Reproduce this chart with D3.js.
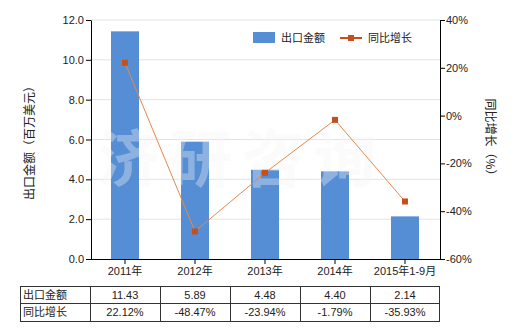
<!DOCTYPE html>
<html><head><meta charset="utf-8">
<script src="https://cdn.jsdelivr.net/npm/d3@7"></script>
<style>
body{margin:0;background:#fff;}
svg text{font-family:"Liberation Sans","Noto Sans CJK SC",sans-serif;font-size:11px;fill:#222;}
</style></head>
<body><svg id="c" width="520" height="330"></svg>
<script>
const categories = ["2011年","2012年","2013年","2014年","2015年1-9月"];
const exportValues = [11.43, 5.89, 4.48, 4.40, 2.14];
const growthRates = [22.12, -48.47, -23.94, -1.79, -35.93];
const exportLabels = ["11.43","5.89","4.48","4.40","2.14"];
const growthLabels = ["22.12%","-48.47%","-23.94%","-1.79%","-35.93%"];
const leftTicks = [0,2,4,6,8,10,12];
const rightTicks = [-60,-40,-20,0,20,40];
const seriesNames = ["出口金额","同比增长"];

const svg = d3.select("#c");
const L = 90, R = 440, T = 20, B = 259;
const xc = d3.scaleBand().domain(categories).range([L, R]);
const yL = d3.scaleLinear().domain([0,12]).range([B, T]);
const yR = d3.scaleLinear().domain([-60,40]).range([B, T]);

// gridlines
svg.append("g").selectAll("line").data(leftTicks.slice(1)).join("line")
  .attr("x1", L).attr("x2", R).attr("y1", d=>yL(d)).attr("y2", d=>yL(d))
  .attr("stroke", "#e3e3e3").attr("stroke-width", 1);

// bars
svg.append("g").selectAll("rect").data(exportValues).join("rect")
  .attr("x", (d,i)=> xc(categories[i]) + xc.bandwidth()/2 - 14)
  .attr("width", 28)
  .attr("y", d=>yL(d)).attr("height", d=>B - yL(d))
  .attr("fill", "#558ed5");

// watermark
svg.append("text").attr("x", 98).attr("y", 182).text("济研咨询")
  .style("font-family", "'Noto Sans CJK SC'").style("font-size", "62px")
  .style("font-weight", "bold").style("letter-spacing", "10px")
  .style("fill", "#f6f6f6").style("opacity", 0.35);

// line
const cx = (i)=> xc(categories[i]) + xc.bandwidth()/2;
const line = d3.line().x((d,i)=>cx(i)).y(d=>yR(d));
svg.append("path").datum(growthRates).attr("d", line)
  .attr("fill","none").attr("stroke","#e8874a").attr("stroke-width",1);
svg.append("g").selectAll("rect").data(growthRates).join("rect")
  .attr("x",(d,i)=>cx(i)-3).attr("y",d=>yR(d)-3).attr("width",6).attr("height",6)
  .attr("fill","#c4501b");

// axes
const axL = svg.append("g").attr("transform",`translate(${L+1},0)`)
  .call(d3.axisLeft(yL).tickValues(leftTicks).tickFormat(d3.format(".1f")).tickSize(5).tickSizeOuter(0));
const axR = svg.append("g").attr("transform",`translate(${R},0)`)
  .call(d3.axisRight(yR).tickValues(rightTicks).tickFormat(d=>d+"%").tickSize(5).tickSizeOuter(0));
const axB = svg.append("g").attr("transform",`translate(0,${B})`)
  .call(d3.axisBottom(xc).tickSize(5).tickSizeOuter(0));
[axL,axR,axB].forEach(a=>{
  a.select(".domain").attr("stroke","#000");
  a.selectAll(".tick line").attr("stroke","#000");
  a.selectAll("text").style("font-size","11px").attr("fill","#222");
});
axL.selectAll("text").attr("x",-7);
axR.selectAll("text").attr("x",6);
axB.selectAll("text").attr("y",8);

// axis titles
svg.append("text").attr("transform","translate(34,140) rotate(-90)").attr("text-anchor","middle")
  .text("出口金额（百万美元）").style("font-family","'Noto Sans CJK SC'").style("font-size","12px");
svg.append("text").attr("transform","translate(486,140) rotate(90)").attr("text-anchor","middle")
  .text("同比增长（%）").style("font-family","'Noto Sans CJK SC'").style("font-size","12px");

// legend
const lg = svg.append("g");
lg.append("rect").attr("x",253).attr("y",32).attr("width",22).attr("height",11).attr("fill","#558ed5");
lg.append("text").attr("x",281).attr("y",42).text(seriesNames[0]).style("font-family","'Noto Sans CJK SC'");
lg.append("line").attr("x1",340).attr("x2",362).attr("y1",38).attr("y2",38).attr("stroke","#c4501b").attr("stroke-width",2);
lg.append("rect").attr("x",348).attr("y",35).attr("width",6).attr("height",6).attr("fill","#c4501b");
lg.append("text").attr("x",368).attr("y",42).text(seriesNames[1]).style("font-family","'Noto Sans CJK SC'");

// table
const tL = 20, rows = [286, 303, 321];
const tb = svg.append("g");
const colX = [tL].concat(categories.map(c=>xc(c))).concat([xc(categories[categories.length-1])+xc.bandwidth()-1]);
rows.forEach(y=> tb.append("line").attr("x1",tL).attr("x2",colX[colX.length-1]).attr("y1",y+0.5).attr("y2",y+0.5).attr("stroke","#333"));
colX.forEach(xv=> tb.append("line").attr("x1",xv+0.5).attr("x2",xv+0.5).attr("y1",rows[0]).attr("y2",rows[2]+1).attr("stroke","#333"));
[ [seriesNames[0], exportLabels], [seriesNames[1], growthLabels] ].forEach((r,ri)=>{
  const yy = rows[ri] + 13;
  tb.append("text").attr("x",tL+3).attr("y",yy).text(r[0]).style("font-family","'Noto Sans CJK SC'");
  r[1].forEach((v,i)=> tb.append("text").attr("x",cx(i)).attr("y",yy).attr("text-anchor","middle").text(v));
});
</script></body></html>
